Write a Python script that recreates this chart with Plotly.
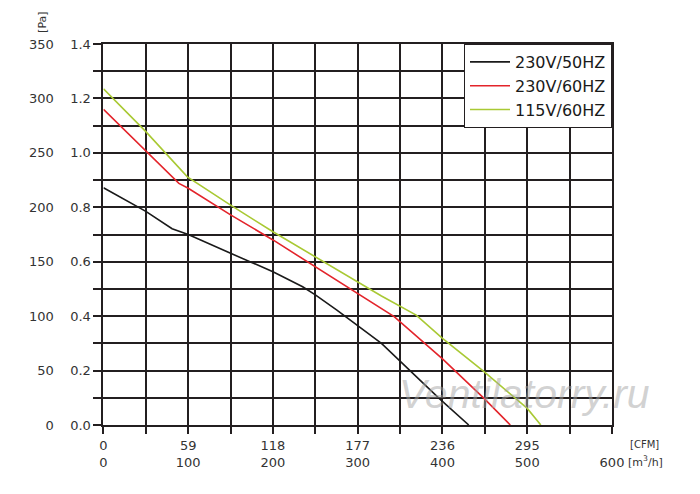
import plotly.graph_objects as go

# Airflow (m³/h) and static pressure (in. wg; Pa axis = in. wg * 250)
flow_50 = [0, 50, 81, 100, 150, 186, 200, 235, 250, 275, 328, 396, 431]
pres_50 = [0.872, 0.785, 0.721, 0.700, 0.631, 0.584, 0.563, 0.508, 0.478, 0.423, 0.300, 0.098, 0.0]

flow_60 = [0, 50, 89, 100, 150, 200, 250, 300, 343, 400, 449, 480]
pres_60 = [1.160, 1.008, 0.888, 0.870, 0.772, 0.680, 0.582, 0.484, 0.398, 0.243, 0.098, 0.0]

flow_115 = [0, 50, 99, 150, 200, 250, 300, 328, 369, 400, 449, 500, 516]
pres_115 = [1.235, 1.078, 0.912, 0.808, 0.710, 0.618, 0.527, 0.474, 0.404, 0.318, 0.196, 0.061, 0.0]

series_names = ["230V/50HZ", "230V/60HZ", "115V/60HZ"]
series_colors = ["#1a1a1a", "#e3242b", "#a9c934"]

x_ticks_m3h = [0, 100, 200, 300, 400, 500, 600]
x_ticks_cfm = ["0", "59", "118", "177", "236", "295", " "]
y_ticks_inwg = [0.0, 0.2, 0.4, 0.6, 0.8, 1.0, 1.2, 1.4]
y_ticks_pa = [0, 50, 100, 150, 200, 250, 300, 350]
PA_PER_INWG = 250

GRID = "#231f20"
TXT = "#333333"
FONT = "DejaVu Sans"

fig = go.Figure()
for fx, py, name, col in zip([flow_50, flow_60, flow_115], [pres_50, pres_60, pres_115],
                             series_names, series_colors):
    fig.add_trace(go.Scatter(x=fx, y=py, mode="lines", name=name,
                             line=dict(color=col, width=1.6)))

# same curve on the Pa scale (invisible) so the Pa axis is drawn
fig.add_trace(go.Scatter(x=flow_50, y=[v * PA_PER_INWG for v in pres_50], yaxis="y2",
                         mode="lines", line=dict(color="rgba(0,0,0,0)", width=0),
                         showlegend=False, hoverinfo="skip"))

# page body has an 8px margin, so the figure starts at (8, 8)
OFF = 8
W, H = 700 - OFF, 494 - OFF
ml, mr, mt, mb = 20 - OFF, 88, 44 - OFF, 69
pw = W - ml - mr
ph = H - mt - mb
x0 = (100 - 20) / pw


def px2x(p):
    return (p - 20) / pw


def px2y(p):
    return (425 - p) / ph


fig.update_layout(
    width=W, height=H,
    margin=dict(l=ml, r=mr, t=mt, b=mb),
    plot_bgcolor="white", paper_bgcolor="white",
    font=dict(family=FONT, size=13, color=TXT),
    xaxis=dict(
        domain=[x0, 1], range=[0, 600],
        tickvals=x_ticks_m3h,
        ticktext=[f"{c}<br>{m}" for c, m in zip(x_ticks_cfm, x_ticks_m3h)],
        showgrid=True, gridcolor=GRID, gridwidth=2,
        ticks="outside", ticklen=7, tickwidth=2, tickcolor=GRID,
        minor=dict(dtick=50, showgrid=True, gridcolor=GRID, gridwidth=2,
                   ticks="outside", ticklen=7, tickwidth=2, tickcolor=GRID),
        showline=True, linecolor=GRID, linewidth=2, mirror=True,
        zeroline=False, fixedrange=True,
        tickfont=dict(size=13, color=TXT),
    ),
    yaxis=dict(
        range=[0, 1.4],
        tickvals=y_ticks_inwg, ticktext=[f"{v:.1f}" for v in y_ticks_inwg],
        showgrid=True, gridcolor=GRID, gridwidth=2,
        ticks="outside", ticklen=8, tickwidth=2, tickcolor=GRID,
        minor=dict(dtick=0.1, showgrid=True, gridcolor=GRID, gridwidth=2,
                   ticks="outside", ticklen=8, tickwidth=2, tickcolor=GRID),
        showline=True, linecolor=GRID, linewidth=2, mirror=True,
        zeroline=False, fixedrange=True,
        tickfont=dict(size=13, color=TXT),
    ),
    yaxis2=dict(
        range=[0, 350], overlaying="y", anchor="free", side="left",
        position=px2x(50),
        tickvals=y_ticks_pa, ticktext=[str(v) for v in y_ticks_pa],
        showgrid=False, showline=False, zeroline=False, ticks="",
        tickfont=dict(size=13, color=TXT), fixedrange=True,
    ),
    legend=dict(
        x=1, y=1, xanchor="right", yanchor="top",
        bgcolor="white", bordercolor=GRID, borderwidth=1,
        font=dict(family=FONT, size=16, color="#1a1a1a"),
        tracegroupgap=0, itemwidth=40,
    ),
    showlegend=True,
)

ann = dict(xref="paper", yref="paper", showarrow=False, xanchor="center", yanchor="middle")
fig.add_annotation(text="[Pa]", x=px2x(38), y=px2y(22), textangle=-90,
                   font=dict(size=11, color=TXT), **ann)
fig.add_annotation(text="[CFM]", x=px2x(645), y=px2y(444),
                   font=dict(size=10, color=TXT), **ann)
fig.add_annotation(text="[m<sup>3</sup>/h]", x=px2x(646), y=px2y(461),
                   font=dict(size=11, color=TXT), **ann)
fig.add_annotation(text="<i>Ventilatorry.ru</i>", x=px2x(524), y=px2y(394),
                   font=dict(family="Liberation Sans", size=41, color="rgba(165,165,165,0.5)"),
                   **ann)

fig.write_html("out.html")
